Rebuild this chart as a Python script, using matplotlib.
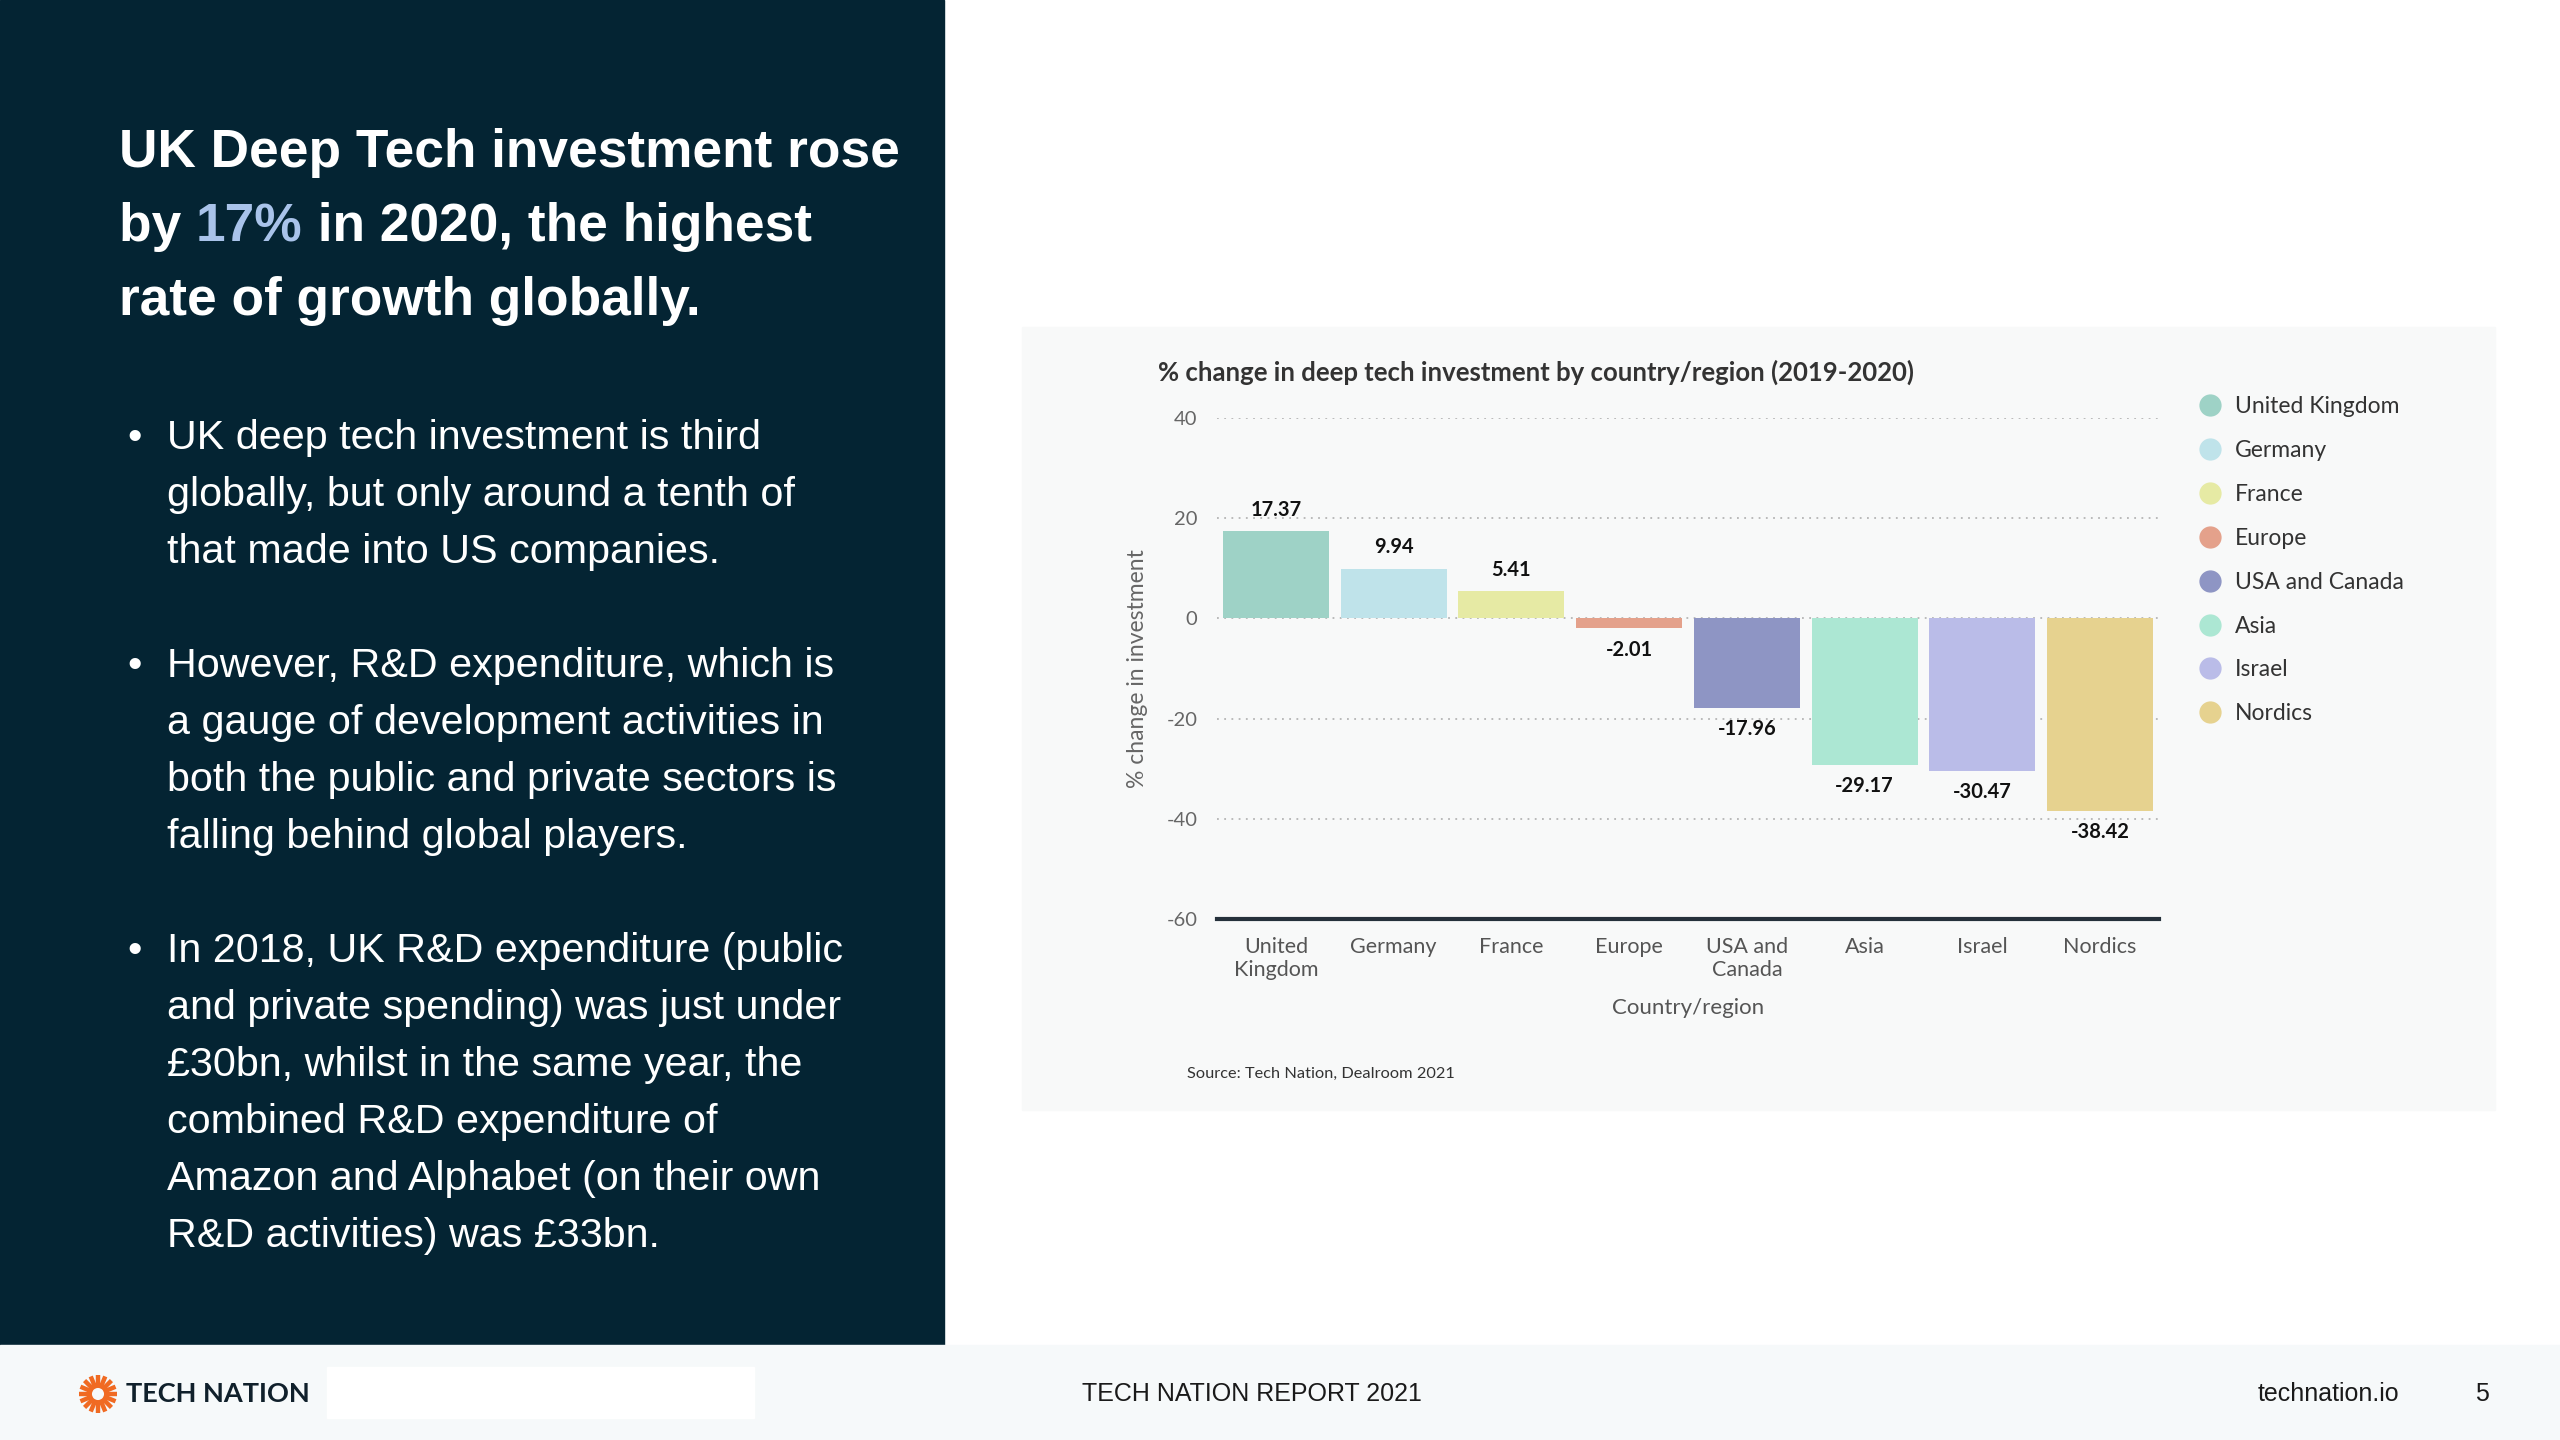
import numpy as np
import matplotlib
matplotlib.use('Agg')
import matplotlib.pyplot as plt
from matplotlib.patches import Rectangle, Circle
from matplotlib.lines import Line2D

# data
regions = ['United Kingdom', 'Germany', 'France', 'Europe', 'USA and Canada', 'Asia', 'Israel', 'Nordics']
tick_labels = ['United\nKingdom', 'Germany', 'France', 'Europe', 'USA and\nCanada', 'Asia', 'Israel', 'Nordics']
pct_change = [17.37, 9.94, 5.41, -2.01, -17.96, -29.17, -30.47, -38.42]
bar_colors = ['#9ed2c6', '#bfe3ea', '#e6eaa4', '#e4a18b', '#8e95c4', '#ace7d3', '#babce8', '#e6d28f']
y_ticks = [-60, -40, -20, 0, 20, 40]

headline = ['UK Deep Tech investment rose', ('by ', '17%', ' in 2020, the highest'), 'rate of growth globally.']
bullets = [
    ['UK deep tech investment is third', 'globally, but only around a tenth of', 'that made into US companies.'],
    ['However, R&D expenditure, which is', 'a gauge of development activities in',
     'both the public and private sectors is', 'falling behind global players.'],
    ['In 2018, UK R&D expenditure (public', 'and private spending) was just under',
     '£30bn, whilst in the same year, the', 'combined R&D expenditure of',
     'Amazon and Alphabet (on their own', 'R&D activities) was £33bn.'],
]

plt.rcParams['axes.unicode_minus'] = False
chart_font = ['Lato', 'DejaVu Sans']
slide_font = ['Liberation Sans', 'DejaVu Sans']
W, H = 2560, 1440

fig = plt.figure(figsize=(25.6, 14.4), dpi=100, facecolor='white')

# page background drawn in pixel coordinates
bg = fig.add_axes([0, 0, 1, 1])
bg.set_xlim(0, W)
bg.set_ylim(H, 0)
bg.axis('off')

bg.add_patch(Rectangle((0, 0), 944, 1345, color='#042433', zorder=0))
bg.add_patch(Rectangle((1022, 327), 1473, 783, color='#f8f9f9', zorder=0))
bg.add_patch(Rectangle((0, 1345), W, 95, color='#f6f9fa', zorder=0))
bg.add_patch(Rectangle((327, 1367), 427, 51, color='white', zorder=0))

# headline
fig.canvas.draw()
renderer = fig.canvas.get_renderer()
hl_kw = dict(fontsize=38.3, weight='bold', family=slide_font, va='baseline', ha='left')
bg.text(119, 167, headline[0], color='white', **hl_kw)
x = 119
for part, col in zip(headline[1], ['white', '#a9c3ea', 'white']):
    t = bg.text(x, 241, part, color=col, **hl_kw)
    bb = t.get_window_extent(renderer)
    x += bb.width
bg.text(119, 315, headline[2], color='white', **hl_kw)

# bullets
k = 0
for group in bullets:
    for i, line in enumerate(group):
        yb = 449 + 57 * k
        if i == 0:
            bg.text(127, yb, '•', color='white', fontsize=29.7, family=slide_font, va='baseline')
        bg.text(167, yb, line, color='white', fontsize=29.7, family=slide_font, va='baseline')
        k += 1
    k += 1

# footer
ang = np.linspace(0, 2 * np.pi, 16, endpoint=False)
for a in ang:
    bg.plot([98 + 10 * np.cos(a), 98 + 19 * np.cos(a)], [1394 + 10 * np.sin(a), 1394 + 19 * np.sin(a)],
            color='#f06a22', lw=3.2, solid_capstyle='butt')
bg.add_patch(Circle((98, 1394), 8.5, fill=False, ec='#f06a22', lw=3.5))
bg.text(126, 1394, 'TECH NATION', fontsize=19.5, weight='bold', color='#10202b', family=chart_font, va='center')
bg.text(1082, 1394, 'TECH NATION REPORT 2021', fontsize=18, color='#1a1a1a', family=slide_font, va='center')
bg.text(2258, 1394, 'technation.io', fontsize=18, color='#1a1a1a', family=slide_font, va='center')
bg.text(2475, 1394, '5', fontsize=18, color='#1a1a1a', family=slide_font, va='center')

# chart texts
bg.text(1158, 372, '% change in deep tech investment by country/region (2019-2020)', fontsize=18.5,
        weight='bold', color='#333333', family=chart_font, va='center')
bg.text(1187, 1074, 'Source: Tech Nation, Dealroom 2021', fontsize=11.8, color='#333333',
        family=chart_font, va='center')

# bar chart
ax = fig.add_axes([1217 / W, 1 - 919 / H, 942 / W, 501 / H])
ax.set_facecolor('none')
xpos = np.arange(len(regions))
bars = ax.bar(xpos, pct_change, width=0.9, color=bar_colors, zorder=2)
ax.set_xlim(-0.5, len(regions) - 0.5)
ax.set_ylim(-60, 40)
ax.set_yticks(y_ticks)
ax.set_xticks(xpos, tick_labels)
ax.set_axisbelow(True)
ax.yaxis.grid(True, linestyle=(0, (1, 3)), color='#b5b5b5', lw=1.3)
for s in ['top', 'right', 'left']:
    ax.spines[s].set_visible(False)
ax.spines['bottom'].set_color('#25313b')
ax.spines['bottom'].set_linewidth(3)
ax.tick_params(length=0)
ax.tick_params(axis='y', pad=14, labelsize=14.5, labelcolor='#666666')
ax.tick_params(axis='x', pad=13, labelsize=15.5, labelcolor='#555555')
for lab in ax.get_xticklabels() + ax.get_yticklabels():
    lab.set_family(chart_font)

for b, v in zip(bars, pct_change):
    off = 8 if v >= 0 else -8
    ax.annotate(f'{v:.2f}', (b.get_x() + b.get_width() / 2, v), xytext=(0, off), textcoords='offset points',
                ha='center', va='bottom' if v >= 0 else 'top', fontsize=14.5, weight='bold',
                color='#111111', family=chart_font)

ax.set_ylabel('% change in investment', fontsize=16.5, color='#666666', family=chart_font)
ax.yaxis.set_label_coords((1148 - 1217) / 942, 0.5)
ax.set_xlabel('Country/region', fontsize=16, color='#555555', family=chart_font)
ax.xaxis.set_label_coords(0.5, (919 - 998) / 501)

handles = [Line2D([], [], marker='o', ls='', markersize=15, markerfacecolor=c, markeredgecolor=c)
           for c in bar_colors]
ax.legend(handles, regions, loc='upper left', bbox_to_anchor=(2199 / W, 1 - 396 / H),
          bbox_transform=fig.transFigure, frameon=False, labelspacing=1.0,
          handlelength=1, handletextpad=0.55, borderpad=0, borderaxespad=0,
          labelcolor='#333333', prop={'family': chart_font, 'size': 16.5})

fig.savefig('out.png', dpi=100, facecolor='white')
